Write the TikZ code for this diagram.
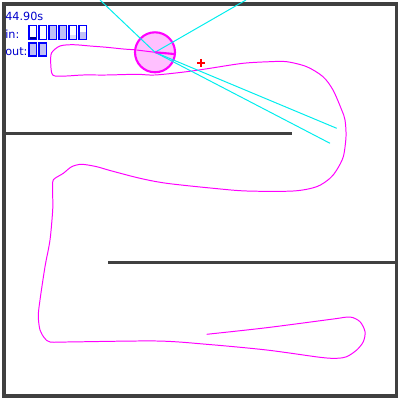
\documentclass[tikz,border=0pt]{standalone}
\usepackage{fontspec}
\setmainfont{DejaVu Sans}
\definecolor{wallc}{HTML}{404040}
\definecolor{txtc}{RGB}{0,0,205}
\definecolor{boxc}{RGB}{0,0,255}
\definecolor{boxfill}{RGB}{192,192,245}
\definecolor{boxlight}{RGB}{222,222,248}
\definecolor{boxdark}{RGB}{0,0,140}
\definecolor{trail}{RGB}{255,0,255}
\definecolor{robotfill}{RGB}{255,192,255}
\definecolor{rayc}{RGB}{0,238,238}
\begin{document}
\begin{tikzpicture}[x=0.025cm,y=-0.025cm,
  wall/.style={draw=wallc,line width=2.2pt},
  lbl/.style={anchor=base west,inner sep=0pt,text=txtc,font=\fontsize{8}{9}\selectfont},
  gauge/.style={draw=boxc,line width=0.75pt},
  ray/.style={draw=rayc,line width=0.7pt},
  trailpath/.style={draw=trail,line width=0.7pt}]
\useasboundingbox (0,0) rectangle (400,400);
\fill[white] (0,0) rectangle (400,400);
\coordinate (rc) at (155,52.3);
\coordinate (r1) at (100,0);
\coordinate (r2) at (246,0);
\coordinate (r3) at (336.7,128.3);
\coordinate (r4) at (330,143.3);
% walls
\draw[wall] (4,4) rectangle (396.5,396);
\draw[wall] (4,133.5) -- (292,133.5);
\draw[wall] (108,262.7) -- (396.5,262.7);
% trail
\draw[trailpath] plot[smooth,tension=0.5] coordinates {
(206.7,334.3) (266.7,327.7) (333.3,319) (350,317) (360,321.7) (365,331.7) (363.3,341.7) (356.7,350) (346.7,356.7) (336.7,358.3) (320,357.3) (266.7,350) (206.7,344.3) (156.7,341) (66.7,342) (50,342) (44.5,338) (40,330) (38.3,316) (40,300) (45,266.7) (50,240) (52.7,210) (52.7,196.7) (52.7,182) (55,178.3) (63.3,173.3) (71.7,166.7) (81.7,164.3) (96.7,166.7) (110,170.5) (140,178.3) (166.7,183.3) (213.3,188.3) (246.7,191) (293.3,191) (316.7,186.7) (330,178.3) (336.7,170) (343.3,156.7) (346,136.7) (345,120) (341.7,110) (333,90) (323,76.7) (306.7,66.7) (286.7,61.7) (270,61.7) (243,63.3) (210,68.3) (186.7,71.7) (155,75) (136.7,74.3) (106.7,75) (83.3,75) (66.7,76) (55,76) (51.7,73) (50.7,62) (51.7,52.7) (60,46) (73.3,44.7) (90,46) (106.7,47.3) (123.3,49) (136.7,50) (155,52.3)};
% robot
\node[circle,draw=trail,fill=robotfill,line width=1.5pt,inner sep=0pt,minimum size=1cm] (robot) at (rc) {};
\draw[trailpath] (136.7,50) -- (rc);
% rays
\draw[ray] (rc) -- (r1);
\draw[ray] (rc) -- (r2);
\draw[ray] (rc) -- (r3);
\draw[ray] (rc) -- (r4);
\draw[trail,line width=1.5pt] (rc) -- (174,54);
% goal
\draw[red,line width=1.4pt] (197,63) -- (205,63) (201,59) -- (201,67);
% text
\node[lbl] (time) at (5,21) {44.90s};
\node[lbl] (inl) at (5,38.5) {in:};
\node[lbl] (outl) at (5,55.5) {out:};
% in gauges
\foreach \i/\f/\c in {0/0.18/boxdark,1/0/boxfill,2/1/boxfill,3/1/boxfill,4/0.33/boxlight,5/0.5/boxfill}{
  \pgfmathsetmacro{\xa}{29+10*\i}
  \pgfmathsetmacro{\xb}{36.5+10*\i}
  \pgfmathsetmacro{\ya}{39.3-13.6*\f}
  \ifdim \f pt>0pt \fill[\c] (\xa,\ya) rectangle (\xb,39.3); \fi
  \draw[gauge] (\xa,25.7) rectangle (\xb,39.3);
}
\foreach \i in {0,1}{
  \pgfmathsetmacro{\xa}{29+10*\i}
  \pgfmathsetmacro{\xb}{36.5+10*\i}
  \fill[boxfill] (\xa,43) rectangle (\xb,56);
  \draw[gauge] (\xa,43) rectangle (\xb,56);
}
\end{tikzpicture}
\end{document}
